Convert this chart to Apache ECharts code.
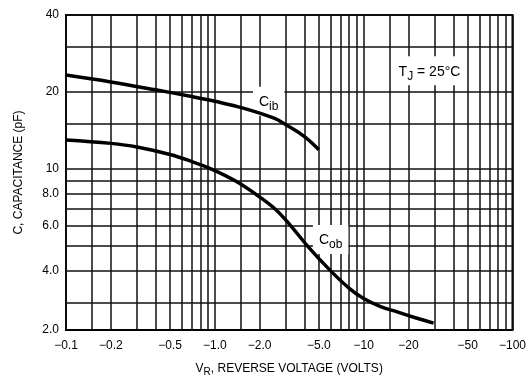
<!DOCTYPE html>
<html>
<head>
<meta charset="utf-8">
<script src="https://cdn.jsdelivr.net/npm/echarts@6/dist/echarts.min.js"></script>
</head>
<body style="margin:0;background:#fff;">
<div id="main" style="width:529px;height:382px;"></div>
<script type="text/javascript">
// reverse voltage magnitude (volts), shown as negative on the axis
var vrCib = [0.1, 0.2, 0.4, 0.7, 1.0, 1.55, 2.5, 3.0, 4.0, 5.0];
var cib   = [23.3, 21.9, 20.4, 19.2, 18.4, 17.3, 15.8, 14.9, 13.4, 11.9];

var vrCob = [0.1, 0.2, 0.3, 0.5, 0.7, 0.95, 1.37, 1.87, 2.53, 3.24, 4.2, 6.0, 8.0, 10, 13, 17, 22, 29.5];
var cob   = [13.0, 12.6, 12.2, 11.4, 10.7, 10, 9, 8, 7, 6, 5, 4, 3.42, 3.12, 2.9, 2.76, 2.63, 2.5];

var xTickValues = [0.1, 0.2, 0.5, 1, 2, 5, 10, 20, 50, 100];
var xTickLabels = ['\u22120.1', '\u22120.2', '\u22120.5', '\u22121.0', '\u22122.0', '\u22125.0', '\u221210', '\u221220', '\u221250', '\u2212100'];
var xGridValues = [0.1, 0.15, 0.2, 0.3, 0.4, 0.5, 0.6, 0.7, 0.8, 0.9,
                   1, 1.5, 2, 3, 4, 5, 6, 7, 8, 9,
                   10, 15, 20, 30, 40, 50, 60, 70, 80, 90, 100];

var yMin = 2.35, yMax = 40;
var yTickValues = [2.35, 4, 6, 8, 10, 20, 40];
var yTickLabels = ['2.0', '4.0', '6.0', '8.0', '10', '20', '40'];
var yGridValues = [3, 4, 5, 6, 7, 8, 9, 10, 15, 20, 30, 40];

function pick(vals, labels, v) {
    for (var i = 0; i < vals.length; i++) {
        if (Math.abs(vals[i] - v) / vals[i] < 0.01) return labels[i];
    }
    return '';
}
function pairs(xs, ys) {
    return xs.map(function (x, i) { return [x, ys[i]]; });
}

var font = 'Liberation Sans, Arial, sans-serif';
var labelRich = {
    n: { fontSize: 14, color: '#000', fontFamily: font },
    s: { fontSize: 12, color: '#000', fontFamily: font, padding: [9, 0, 0, 0] }
};
var myChart = echarts.init(document.getElementById('main'));

var option = {
    animation: false,
    textStyle: { fontFamily: font },
    grid: { left: 66, right: 12, top: 15, bottom: 52, show: true, borderColor: '#000', borderWidth: 2 },
    xAxis: {
        type: 'log', logBase: 10, min: 0.1, max: 100,
        name: '{n|V}{s|R}{n|, REVERSE VOLTAGE (VOLTS)}',
        nameLocation: 'middle', nameGap: 30,
        nameTextStyle: {
            rich: {
                n: { fontSize: 12, color: '#000', fontFamily: font },
                s: { fontSize: 10, color: '#000', fontFamily: font, padding: [7, 0, 0, 0] }
            }
        },
        axisLine: { show: false },
        axisTick: { show: false, customValues: xGridValues },
        splitLine: { show: true, lineStyle: { color: '#111', width: 1.5 } },
        axisLabel: {
            customValues: xTickValues, color: '#000', fontSize: 12, margin: 10,
            formatter: function (v) { return pick(xTickValues, xTickLabels, v); }
        }
    },
    yAxis: {
        type: 'log', logBase: 10, min: yMin, max: yMax,
        name: 'C, CAPACITANCE (pF)',
        nameLocation: 'middle', nameGap: 41, nameRotate: 90,
        nameTextStyle: { fontSize: 12, color: '#000' },
        axisLine: { show: false },
        axisTick: { show: false, customValues: yGridValues },
        splitLine: { show: true, lineStyle: { color: '#111', width: 1.5 } },
        axisLabel: {
            customValues: yTickValues, color: '#000', fontSize: 12, margin: 7,
            formatter: function (v) { return pick(yTickValues, yTickLabels, v); }
        }
    },
    series: [{
        name: 'Cib', type: 'line', smooth: 0.4, symbol: 'none', z: 3,
        data: pairs(vrCib, cib),
        lineStyle: { color: '#000', width: 3.5 },
        markPoint: {
            symbol: 'rect', symbolSize: 0, z: 1,
            data: [{ coord: [2.3, 18.4] }],
            label: {
                show: true, position: 'inside', backgroundColor: '#fff', padding: [5, 6, 3, 6],
                formatter: '{n|C}{s|ib}', rich: labelRich
            }
        }
    }, {
        name: 'Cob', type: 'line', smooth: 0.4, symbol: 'none', z: 3,
        data: pairs(vrCob, cob),
        lineStyle: { color: '#000', width: 3.5 },
        markPoint: {
            symbol: 'rect', symbolSize: 0, z: 1,
            data: [
                { coord: [6.0, 5.3], label: { formatter: '{n|C}{s|ob}' } },
                { coord: [27.7, 24.2], label: { formatter: '{n|T}{s|J}{n| = 25\u00b0C}' } }
            ],
            label: {
                show: true, position: 'inside', backgroundColor: '#fff', padding: [5, 6, 3, 6],
                rich: labelRich
            }
        }
    }]
};

myChart.setOption(option);
</script>
</body>
</html>
